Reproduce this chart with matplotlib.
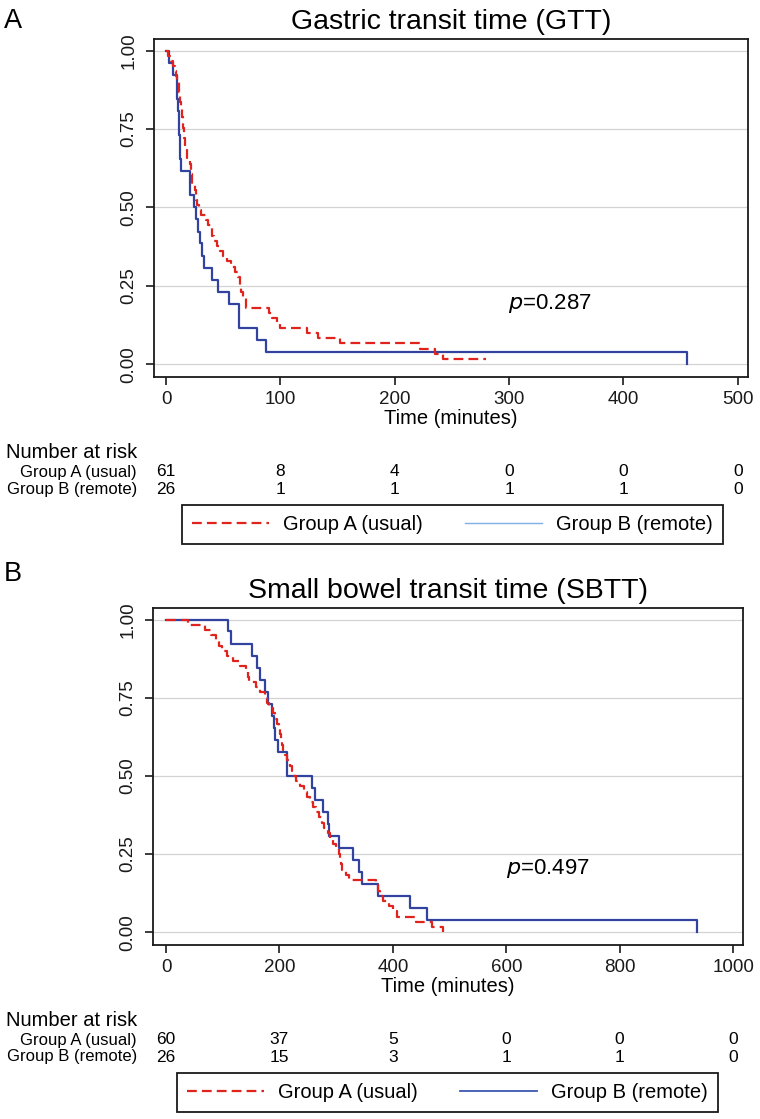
import matplotlib
matplotlib.use("Agg")
import matplotlib.pyplot as plt
from matplotlib.lines import Line2D
from matplotlib.transforms import blended_transform_factory

plt.rcParams['font.family'] = ['Liberation Sans', 'DejaVu Sans']

# ---------------- data ----------------
group_labels = ["Group A (usual)", "Group B (remote)"]

# Panel A: Gastric transit time (GTT)
gtt_title = "Gastric transit time (GTT)"
gtt_xticks = [0, 100, 200, 300, 400, 500]
gtt_a_time = [0, 2, 4, 6, 8, 9, 10, 11, 12, 13, 14, 15, 16, 17, 18, 21, 22, 23, 25, 26,
              27, 29, 31, 35, 37, 40, 42, 45, 47, 50, 53, 57, 60, 63, 65, 66, 67, 70,
              90, 93, 97, 100, 123, 133, 152, 222, 235, 242, 280]
gtt_a_surv = [1.0, .984, .967, .951, .934, .918, .902, .869, .836, .820, .787, .754, .721,
              .689, .656, .639, .607, .574, .557, .525, .508, .492, .475, .459, .443, .410,
              .393, .377, .361, .344, .328, .311, .295, .279, .246, .230, .213, .180, .164,
              .148, .131, .115, .098, .082, .066, .049, .033, .016, .016]
gtt_b_time = [0, 2.5, 6, 9.5, 10, 10.5, 11, 11.5, 12, 12.5, 13, 21, 24.5, 26, 28, 30, 31.5,
              33.5, 40, 45.5, 55, 64, 80, 87.5, 456]
gtt_b_surv = [1.0, .962, .923, .885, .846, .808, .769, .731, .692, .654, .615, .538, .500,
              .462, .423, .385, .346, .308, .269, .231, .192, .115, .077, .038, 0.0]
gtt_risk_a = [61, 8, 4, 0, 0, 0]
gtt_risk_b = [26, 1, 1, 1, 1, 0]
gtt_p = "=0.287"

# Panel B: Small bowel transit time (SBTT)
sbtt_title = "Small bowel transit time (SBTT)"
sbtt_xticks = [0, 200, 400, 600, 800, 1000]
sbtt_a_time = [0, 38, 68, 80, 88, 93, 98, 108, 118, 130, 141, 145, 147, 159, 166, 174, 178,
               182, 188, 193, 196, 199, 201, 203, 205, 207, 209, 213, 218, 222, 226, 230,
               236, 244, 249, 253, 259, 265, 270, 275, 279, 285, 290, 294, 300, 305, 307,
               309, 311, 317, 323, 370, 374, 378, 382, 393, 400, 408, 440, 469, 488]
sbtt_a_surv = [1.0, .983, .967, .950, .933, .917, .900, .883, .867, .850, .833, .817, .800,
               .783, .767, .750, .733, .717, .700, .683, .667, .650, .633, .617, .600, .583,
               .567, .550, .533, .517, .500, .483, .467, .450, .433, .417, .400, .383, .367,
               .350, .333, .317, .300, .283, .267, .250, .233, .217, .200, .183, .167, .150,
               .133, .117, .100, .083, .067, .050, .033, .017, 0.0]
sbtt_b_time = [0, 110, 114, 152, 160, 165, 174, 180, 186, 190, 193, 197, 214, 257, 263, 276,
               285, 288, 305, 329, 341, 345, 373, 431, 460, 936]
sbtt_b_surv = [1.0, .962, .923, .885, .846, .808, .769, .731, .692, .654, .615, .577, .500,
               .462, .423, .385, .346, .308, .269, .231, .192, .154, .115, .077, .038, 0.0]
sbtt_risk_a = [60, 37, 5, 0, 0, 0]
sbtt_risk_b = [26, 15, 3, 1, 1, 0]
sbtt_p = "=0.497"

# ---------------- layout ----------------
W, H = 760, 1119
fig = plt.figure(figsize=(W / 100, H / 100), dpi=100)


def fx(px):
    return px / W


def fy(py):
    return 1 - py / H


RED = '#e0231d'
BLUE = '#31439f'
DASH = (4.4, 2.3)


def panel(letter, letter_y, title, box, xlim, xticks, a_t, a_s, b_t, b_s, ptxt, pxy,
          risk_a, risk_b, rows_y, leg_box, leg_blue):
    left, top, right, bottom = box
    xlabel_y, ylab_y, rowA_y, rowB_y = rows_y
    ax = fig.add_axes([fx(left), fy(bottom), fx(right - left), (bottom - top) / H])
    ax.step(b_t, b_s, where='post', color=BLUE, lw=1.6, zorder=3)
    ax.step(a_t, a_s, where='post', color=RED, lw=1.6, dashes=DASH, zorder=4)
    ax.set_xlim(*xlim)
    ax.set_ylim(-0.041, 1.037)
    ax.set_xticks(xticks)
    ax.set_yticks([0, 0.25, 0.5, 0.75, 1.0])
    ax.set_yticklabels(["0.00", "0.25", "0.50", "0.75", "1.00"])
    ax.yaxis.grid(True, color='#d3d3d3', lw=0.9)
    ax.set_axisbelow(True)
    for s in ax.spines.values():
        s.set_linewidth(1.3)
        s.set_color('#1a1a1a')
    ax.tick_params(direction='out', length=6, width=1.2, colors='#1a1a1a', labelsize=13.5)
    ax.tick_params(axis='y', pad=6)
    ax.tick_params(axis='x', pad=4)
    plt.setp(ax.get_yticklabels(), rotation=90, va='center')
    ax.set_title(title, fontsize=20.5, pad=7)
    ax.text(pxy[0], pxy[1], r"$\it{p}$" + ptxt, fontsize=16, ha='center', va='center')

    fig.text(fx(4), fy(letter_y), letter, fontsize=19.5, ha='left', va='baseline')
    fig.text(fx((left + right) / 2), fy(xlabel_y), "Time (minutes)", fontsize=14.5,
             ha='center', va='center')

    # number at risk table
    fig.text(fx(6), fy(ylab_y), "Number at risk", fontsize=14.5, ha='left', va='center')
    fig.text(fx(137), fy(rowA_y), group_labels[0], fontsize=12, ha='right', va='center')
    fig.text(fx(137), fy(rowB_y), group_labels[1], fontsize=12, ha='right', va='center')
    tr = blended_transform_factory(ax.transData, fig.transFigure)
    for xv, na, nb in zip(xticks, risk_a, risk_b):
        ax.text(xv, fy(rowA_y), str(na), transform=tr, fontsize=12.5,
                ha='center', va='center', clip_on=False)
        ax.text(xv, fy(rowB_y), str(nb), transform=tr, fontsize=12.5,
                ha='center', va='center', clip_on=False)

    # legend
    l0, t0, r0, b0 = leg_box
    h_a = Line2D([], [], color=RED, lw=1.6, dashes=DASH)
    h_b = Line2D([], [], color=leg_blue[0], lw=leg_blue[1])
    leg = fig.legend([h_a, h_b], group_labels, loc='center',
                     bbox_to_anchor=(fx((l0 + r0) / 2), fy((t0 + b0) / 2)),
                     ncol=2, fontsize=14.5, frameon=True, fancybox=False,
                     edgecolor='#1a1a1a', framealpha=1, handlelength=3.8, handletextpad=0.7,
                     borderpad=0.5, borderaxespad=0, columnspacing=2.1)
    leg.get_frame().set_linewidth(1.3)
    return ax


panel("A", 28, gtt_title, (154, 39, 748, 377), (-10.5, 509), gtt_xticks,
      gtt_a_time, gtt_a_surv, gtt_b_time, gtt_b_surv, gtt_p, (336, 0.195),
      gtt_risk_a, gtt_risk_b, (419, 453, 472, 489), (183, 506, 722, 543), ('#7fb0e8', 1.0))

panel("B", 581, sbtt_title, (153, 608, 743, 945), (-23, 1017.5), sbtt_xticks,
      sbtt_a_time, sbtt_a_surv, sbtt_b_time, sbtt_b_surv, sbtt_p, (674, 0.205),
      sbtt_risk_a, sbtt_risk_b, (987, 1021, 1040, 1057), (180, 1074, 715, 1111),
      ('#3b57b0', 1.3))

fig.savefig("out.png", dpi=100, facecolor='white')
